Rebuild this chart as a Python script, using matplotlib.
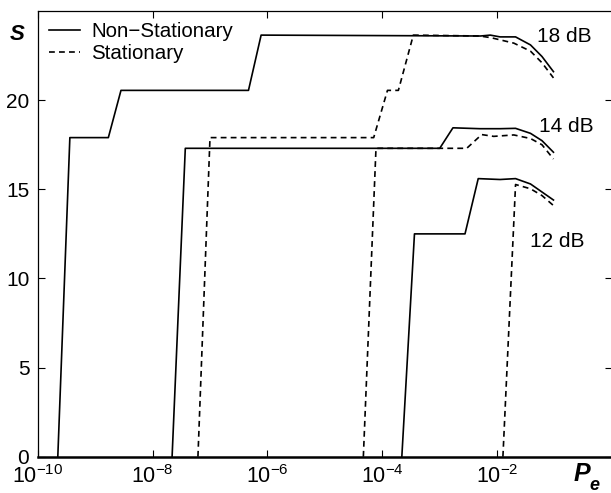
import numpy as np
import matplotlib
matplotlib.use("Agg")
from matplotlib import pyplot as plt

plt.rcParams['font.family'] = ['Liberation Sans', 'DejaVu Sans']
plt.rcParams['mathtext.fontset'] = 'custom'
plt.rcParams['mathtext.rm'] = 'Liberation Sans'

# curves: log10(Pe) and S
ns18_logpe = [-9.65, -9.44, -8.77, -8.55, -6.33, -6.11, -2.29, -2.12, -1.95, -1.68, -1.42, -1.22, -1.02]
ns18_s = [0, 17.9, 17.9, 20.55, 20.55, 23.65, 23.6, 23.65, 23.55, 23.55, 23.1, 22.45, 21.6]
st18_logpe = [-7.21, -7.0, -4.15, -3.91, -3.72, -3.46, -2.3, -2.1, -1.71, -1.42, -1.22, -1.02]
st18_s = [0, 17.9, 17.9, 20.55, 20.55, 23.65, 23.6, 23.5, 23.2, 22.75, 22.1, 21.25]

ns14_logpe = [-7.66, -7.43, -3.0, -2.77, -2.3, -1.95, -1.68, -1.42, -1.22, -1.02]
ns14_s = [0, 17.3, 17.3, 18.45, 18.4, 18.4, 18.42, 18.14, 17.73, 17.08]
st14_logpe = [-4.33, -4.11, -2.53, -2.27, -2.06, -1.71, -1.42, -1.22, -1.02]
st14_s = [0, 17.3, 17.3, 18.07, 17.97, 18.05, 17.85, 17.5, 16.7]

ns12_logpe = [-3.66, -3.44, -2.56, -2.33, -1.95, -1.68, -1.42, -1.22, -1.02]
ns12_s = [0, 12.5, 12.5, 15.6, 15.55, 15.6, 15.3, 14.85, 14.4]
st12_logpe = [-1.90, -1.68, -1.42, -1.22, -1.02]
st12_s = [0, 15.27, 15.03, 14.65, 14.09]

labels = ["18 dB", "14 dB", "12 dB"]
label_pos = [(-1.31, 23.55), (-1.27, 18.5), (-1.43, 12.05)]

xticks = [1e-10, 1e-8, 1e-6, 1e-4, 1e-2]
yticks = [0, 5, 10, 15, 20]

fig = plt.figure(figsize=(6.11, 4.93), dpi=100)
ax = fig.add_axes([0.0617, 0.0736, 0.94, 0.904])

dash = (3.5, 2.5)
ax.plot(np.power(10.0, ns18_logpe), ns18_s, 'k-', lw=1.2, label="Non\u2212Stationary")
ax.plot(np.power(10.0, st18_logpe), st18_s, 'k--', lw=1.2, dashes=dash, label="Stationary")
ax.plot(np.power(10.0, ns14_logpe), ns14_s, 'k-', lw=1.2)
ax.plot(np.power(10.0, st14_logpe), st14_s, 'k--', lw=1.2, dashes=dash)
ax.plot(np.power(10.0, ns12_logpe), ns12_s, 'k-', lw=1.2)
ax.plot(np.power(10.0, st12_logpe), st12_s, 'k--', lw=1.2, dashes=dash)

for txt, (lx, ly) in zip(labels, label_pos):
    ax.text(10**lx, ly, txt, fontsize=15, ha='left', va='center')

ax.set_xscale('log')
ax.set_xlim(1e-10, 1)
ax.set_ylim(0, 25)
ax.set_xticks(xticks)
ax.xaxis.set_minor_locator(matplotlib.ticker.NullLocator())
ax.set_yticks(yticks)
ax.tick_params(direction='in', top=True, right=True, length=5, width=0.8,
               labelsize=15, pad=6)
ax.tick_params(axis='x', labelsize=15.5, pad=6)
for side in ['left', 'top', 'right']:
    ax.spines[side].set_linewidth(0.9)
ax.spines['bottom'].set_linewidth(1.8)

leg = ax.legend(loc='upper left', frameon=False, fontsize=14.8, handlelength=1.5,
                handletextpad=0.55, borderaxespad=0.15, labelspacing=0.15)

fig.text(17 / 611, 1 - 34 / 493, "S", fontsize=16, fontweight='bold', style='italic',
         ha='center', va='center')
fig.text(582 / 611, 1 - 474 / 493, "P", fontsize=18, fontweight='bold', style='italic',
         ha='center', va='center')
fig.text(594 / 611, 1 - 485 / 493, "e", fontsize=13, fontweight='bold', style='italic',
         ha='center', va='center')

fig.savefig("out.png", dpi=100)
